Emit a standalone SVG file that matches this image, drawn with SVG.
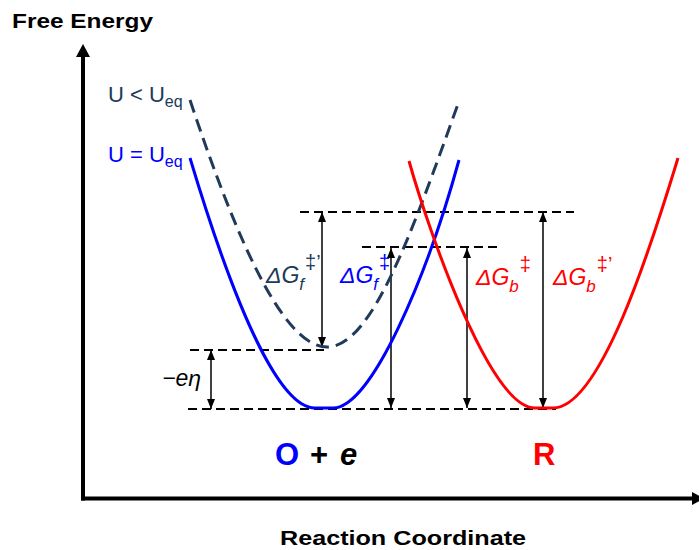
<svg xmlns="http://www.w3.org/2000/svg" width="699" height="550" viewBox="0 0 699 550">
<style>
  .axis{stroke:#000;stroke-width:4;fill:none}
  .hd{stroke:#000;stroke-width:2;stroke-dasharray:9 5;fill:none}
  .va{stroke:#000;stroke-width:1.5;fill:none;marker-start:url(#ah);marker-end:url(#ah)}
  .curve{fill:none;stroke-width:3}
  .title{font-family:"Liberation Sans",Arial,sans-serif;font-weight:bold;font-size:21px;fill:#000}
  .lbl{font-family:"Liberation Sans",Arial,sans-serif;font-style:italic;font-size:23px}
  .sub{font-size:17px}
  .sup{font-size:20px;font-style:normal}
  .ulbl{font-family:"Liberation Sans",Arial,sans-serif;font-size:22px}
  .big{font-family:"Liberation Sans",Arial,sans-serif;font-weight:bold;font-size:31px}
</style>
<defs>
  <marker id="ah" viewBox="0 0 10 8" refX="10" refY="4" markerWidth="10" markerHeight="8" markerUnits="userSpaceOnUse" orient="auto-start-reverse">
    <path d="M0,0 L10,4 L0,8 Z" fill="#000"/>
  </marker>
</defs>
<rect width="699" height="550" fill="#fff"/>

<g id="axes">
  <line class="axis" x1="83" y1="500.5" x2="83" y2="55"/>
  <polygon points="83,44 76,57 90,57" fill="#000"/>
  <line class="axis" x1="81" y1="498.5" x2="694" y2="498.5"/>
  <polygon points="692,492 704,498.5 692,505" fill="#000"/>
  <text class="title" x="12" y="28" textLength="141" lengthAdjust="spacingAndGlyphs">Free Energy</text>
  <text class="title" x="280" y="545" textLength="246" lengthAdjust="spacingAndGlyphs">Reaction Coordinate</text>
</g>

<g id="connectors">
  <line class="hd" x1="300" y1="212" x2="574" y2="212"/>
  <line class="hd" x1="362" y1="247" x2="502" y2="247"/>
  <line class="hd" x1="190" y1="350" x2="324" y2="350"/>
  <line class="hd" x1="188" y1="409" x2="556" y2="409"/>
  <line class="va" x1="322" y1="212" x2="322" y2="347"/>
  <line class="va" x1="391" y1="248" x2="391" y2="408"/>
  <line class="va" x1="467" y1="248" x2="467" y2="408"/>
  <line class="va" x1="543" y1="212" x2="543" y2="408"/>
  <line class="va" x1="211" y1="350" x2="211" y2="409"/>
</g>

<g id="curve-shifted">
  <path class="curve" stroke="#203A5A" stroke-dasharray="13 7" d="M190,100 C234,232 282,347 327,347 C372,347 412,232 458,104"/>
  <text class="ulbl" x="108" y="102" fill="#203A5A">U &lt; U<tspan font-size="16" dy="5">eq</tspan></text>
</g>

<g id="curve-ox">
  <path class="curve" stroke="#0000FF" d="M190,158 C217,248 270,408 315,408 L333,408 C372,408 428,273 459,160"/>
  <text class="ulbl" x="108" y="162" fill="#0000FF">U = U<tspan font-size="16" dy="5">eq</tspan></text>
</g>

<g id="curve-red">
  <path class="curve" stroke="#FF0000" d="M409,161 C429,232 490,408 535,408 L553,408 C600,408 650,250 678,158"/>
</g>

<g id="labels">
  <text class="lbl" x="266" y="283" fill="#203A5A">ΔG<tspan class="sub" dy="7">f</tspan><tspan class="sup" dx="1" dy="-21">‡’</tspan></text>
  <text class="lbl" x="340" y="283" fill="#0000FF">ΔG<tspan class="sub" dy="7">f</tspan><tspan class="sup" dx="1" dy="-21">‡</tspan></text>
  <text class="lbl" x="476" y="285" fill="#FF0000">ΔG<tspan class="sub" dy="7">b</tspan><tspan class="sup" dx="1" dy="-21">‡</tspan></text>
  <text class="lbl" x="553" y="285" fill="#FF0000">ΔG<tspan class="sub" dy="7">b</tspan><tspan class="sup" dx="1" dy="-21">‡’</tspan></text>
  <text class="lbl" x="162" y="386" fill="#000" font-size="24">−eη</text>
</g>

<g id="state-O">
  <text class="big" x="275" y="465" fill="#0000FF">O</text>
  <text class="big" x="310" y="465" fill="#000">+</text>
  <text class="big" x="340" y="465" fill="#000" font-style="italic">e</text>
</g>

<g id="state-R">
  <text class="big" x="533" y="465" fill="#FF0000">R</text>
</g>
</svg>
